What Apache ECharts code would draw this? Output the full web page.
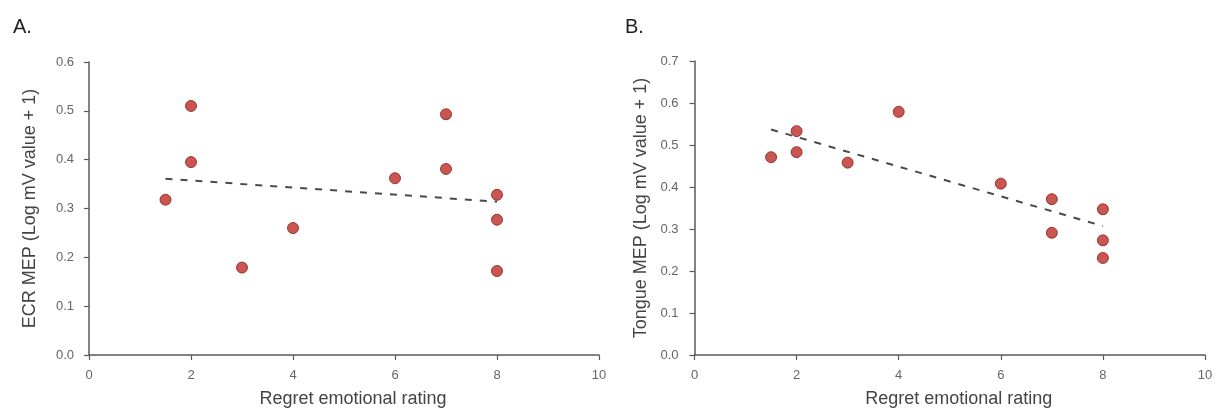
<!DOCTYPE html>
<html><head><meta charset="utf-8">
<script src="https://cdn.jsdelivr.net/npm/echarts@6/dist/echarts.min.js"></script>
<style>html,body{margin:0;padding:0;background:#fff}#c{width:1220px;height:416px}</style>
</head><body><div id="c"></div>
<script>
// Panel A: ECR MEP
const ratingA = [1.5, 2, 2, 3, 4, 6, 7, 7, 8, 8, 8];
const mepA    = [0.318, 0.510, 0.395, 0.179, 0.260, 0.362, 0.493, 0.381, 0.328, 0.277, 0.172];
const trendA  = [[1.5, 0.361], [8, 0.314]];
// Panel B: Tongue MEP
const ratingB = [1.5, 2, 2, 3, 4, 6, 7, 7, 8, 8, 8];
const mepB    = [0.471, 0.533, 0.483, 0.458, 0.579, 0.408, 0.371, 0.291, 0.347, 0.273, 0.231];
const trendB  = [[1.5, 0.537], [8, 0.307]];
const panelTitles = ['A.', 'B.'];
const yNames = ['ECR MEP (Log mV value + 1)', 'Tongue MEP (Log mV value + 1)'];
const xName = 'Regret emotional rating';
const xTicks = {min: 0, max: 10, interval: 2};
const yTicksA = {min: 0, max: 0.6, interval: 0.1};
const yTicksB = {min: 0, max: 0.7, interval: 0.1};

const FONT = '"Liberation Sans", Arial, sans-serif';
const axisCol = '#5a5a5a';
const labelCol = '#666';

function xAxis(gi) {
  return {
    type: 'value', gridIndex: gi, min: xTicks.min, max: xTicks.max, interval: xTicks.interval,
    name: xName, nameLocation: 'middle', nameGap: 35,
    nameTextStyle: {fontFamily: FONT, fontSize: 18, color: '#444', padding: [0, 0, 0, 18]},
    axisLine: {show: true, lineStyle: {color: axisCol, width: 1.5}},
    axisTick: {show: true, inside: false, length: 5, lineStyle: {color: axisCol, width: 1.2}},
    axisLabel: {fontFamily: FONT, fontSize: 13, color: labelCol, margin: 14},
    splitLine: {show: false}
  };
}
function yAxis(gi, t, name, gap, margin) {
  return {
    type: 'value', gridIndex: gi, min: t.min, max: t.max, interval: t.interval,
    name: name, nameLocation: 'middle', nameGap: gap, nameRotate: 90,
    nameTextStyle: {fontFamily: FONT, fontSize: 18, color: '#444'},
    axisLine: {show: true, lineStyle: {color: axisCol, width: 1.5}},
    axisTick: {show: true, inside: false, length: 5, lineStyle: {color: axisCol, width: 1.2}},
    axisLabel: {fontFamily: FONT, fontSize: 13, color: labelCol, margin: margin,
      formatter: v => v.toFixed(1)},
    splitLine: {show: false}
  };
}
function pts(xs, ys) { return xs.map((x, i) => [x, ys[i]]); }
const dotStyle = {color: '#bd2c26', borderColor: '#861c17', borderWidth: 1};
const dashStyle = {color: '#4a4a4a', width: 2, type: [7, 8]};

const chart = echarts.init(document.getElementById('c'), null, {renderer: 'canvas'});
chart.setOption({
  backgroundColor: '#fff',
  animation: false,
  title: [
    {text: panelTitles[0], left: 8, top: 12, textStyle: {fontFamily: FONT, fontSize: 20, fontWeight: 'normal', color: '#222'}},
    {text: panelTitles[1], left: 620, top: 12, textStyle: {fontFamily: FONT, fontSize: 20, fontWeight: 'normal', color: '#222'}}
  ],
  grid: [
    {left: 89, right: 621, top: 62, bottom: 61},
    {left: 694.5, right: 15, top: 61, bottom: 61}
  ],
  xAxis: [xAxis(0), xAxis(1)],
  yAxis: [yAxis(0, yTicksA, yNames[0], 50, 15), yAxis(1, yTicksB, yNames[1], 44, 16)],
  series: [
    {type: 'line', xAxisIndex: 0, yAxisIndex: 0, data: trendA, symbol: 'none', lineStyle: dashStyle, silent: true, z: 1},
    {type: 'scatter', xAxisIndex: 0, yAxisIndex: 0, data: pts(ratingA, mepA), symbolSize: 11, itemStyle: dotStyle, z: 2},
    {type: 'line', xAxisIndex: 1, yAxisIndex: 1, data: trendB, symbol: 'none', lineStyle: dashStyle, silent: true, z: 1},
    {type: 'scatter', xAxisIndex: 1, yAxisIndex: 1, data: pts(ratingB, mepB), symbolSize: 11, itemStyle: dotStyle, z: 2}
  ]
});
</script>
</body></html>
